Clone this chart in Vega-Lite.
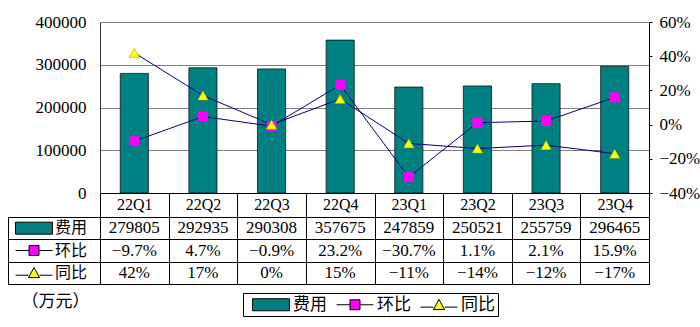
{
  "$schema": "https://vega.github.io/schema/vega-lite/v6.json",
  "background": "white",
  "padding": {"left": 7, "top": 13, "right": 0, "bottom": 0},
  "config": {
    "font": "Liberation Serif",
    "view": {"stroke": null},
    "axis": {"labelColor": "#000", "labelFont": "Liberation Serif", "labelOverlap": false},
    "axisRight": {"labelOverlap": false}
  },
  "datasets": {
    "main": [
      {"q": "22Q1", "fee": 279805, "hb": -0.097, "tb": 0.42},
      {"q": "22Q2", "fee": 292935, "hb": 0.047, "tb": 0.17},
      {"q": "22Q3", "fee": 290308, "hb": -0.009, "tb": 0.0},
      {"q": "22Q4", "fee": 357675, "hb": 0.232, "tb": 0.15},
      {"q": "23Q1", "fee": 247859, "hb": -0.307, "tb": -0.11},
      {"q": "23Q2", "fee": 250521, "hb": 0.011, "tb": -0.14},
      {"q": "23Q3", "fee": 255759, "hb": 0.021, "tb": -0.12},
      {"q": "23Q4", "fee": 296465, "hb": 0.159, "tb": -0.17}
    ],
    "rows": [{"s": "费用"}, {"s": "环比"}, {"s": "同比"}]
  },
  "columns": 2,
  "spacing": {"row": 24, "column": 0},
  "bounds": "flush",
  "resolve": {"legend": {"shape": "independent", "fill": "independent", "stroke": "independent"}},
  "concat": [
    {
      "width": 92, "height": 171,
      "data": {"values": [{}]},
      "mark": {"type": "text"},
      "encoding": {"text": {"value": ""}}
    },
    {
      "width": 549, "height": 171,
      "data": {"name": "main"},
      "encoding": {
        "x": {
          "field": "q", "type": "nominal", "sort": null,
          "scale": {"paddingInner": 0, "paddingOuter": 0},
          "axis": {"title": null, "labelAngle": 0, "tickBand": "extent", "tickSize": 24, "tickColor": "#000", "domainColor": "#000", "labelPadding": -13, "labelBaseline": "middle", "labelFontSize": 16}
        }
      },
      "layer": [
        {
          "mark": {"type": "bar", "width": {"band": 0.41}, "fill": "#008080", "stroke": "#000", "strokeWidth": 0.7},
          "encoding": {
            "y": {
              "field": "fee", "type": "quantitative",
              "scale": {"domain": [0, 400000]},
              "axis": {"title": null, "values": [0, 100000, 200000, 300000, 400000], "format": "d", "grid": true, "gridColor": "#808080", "gridOpacity": 1, "ticks": false, "domainColor": "#333", "labelFontSize": 17, "labelPadding": 14, "labelOverlap": false}
            }
          }
        },
        {
          "layer": [
            {
              "mark": {"type": "line", "stroke": "#000080", "strokeWidth": 1},
              "encoding": {"y": {"field": "hb", "type": "quantitative", "scale": {"domain": [-0.4, 0.6]}, "axis": {"title": null, "orient": "right", "values": [-0.4, -0.2, 0, 0.2, 0.4, 0.6], "format": ".0%", "grid": false, "tickSize": 3, "tickColor": "#000", "domainColor": "#000", "labelFontSize": 17, "labelPadding": 7, "labelOverlap": false}}}
            },
            {
              "mark": {"type": "line", "stroke": "#000080", "strokeWidth": 1},
              "encoding": {"y": {"field": "tb", "type": "quantitative", "scale": {"domain": [-0.4, 0.6]}, "axis": {"title": null, "orient": "right", "values": [-0.4, -0.2, 0, 0.2, 0.4, 0.6], "format": ".0%", "grid": false, "tickSize": 3, "tickColor": "#000", "domainColor": "#000", "labelFontSize": 17, "labelPadding": 7, "labelOverlap": false}}}
            },
            {
              "mark": {"type": "point", "shape": "square", "filled": true, "fill": "#FF00FF", "size": 100, "opacity": 1},
              "encoding": {"y": {"field": "hb", "type": "quantitative", "axis": {"title": null, "orient": "right", "values": [-0.4, -0.2, 0, 0.2, 0.4, 0.6], "format": ".0%", "grid": false, "tickSize": 3, "tickColor": "#000", "domainColor": "#000", "labelFontSize": 17, "labelPadding": 7, "labelOverlap": false}}}
            },
            {
              "mark": {"type": "point", "shape": "triangle-up", "filled": true, "fill": "#FFFF00", "stroke": "#999900", "strokeWidth": 0.5, "size": 110, "opacity": 1},
              "encoding": {"y": {"field": "tb", "type": "quantitative", "axis": {"title": null, "orient": "right", "values": [-0.4, -0.2, 0, 0.2, 0.4, 0.6], "format": ".0%", "grid": false, "tickSize": 3, "tickColor": "#000", "domainColor": "#000", "labelFontSize": 17, "labelPadding": 7, "labelOverlap": false}}}
            }
          ]
        }
      ],
      "resolve": {"scale": {"y": "independent"}}
    },
    {
      "width": 92, "height": 67,
      "view": {"stroke": "#000"},
      "data": {"name": "rows"},
      "encoding": {
        "y": {
          "field": "s", "type": "nominal", "sort": null,
          "scale": {"domain": ["费用", "环比", "同比"]},
          "axis": {"title": null, "labels": false, "ticks": false, "domain": false, "grid": true, "tickBand": "extent", "gridColor": "#000", "gridOpacity": 1}
        }
      },
      "layer": [
        {
          "mark": {"type": "point", "filled": true, "size": 144, "strokeWidth": 1, "opacity": 1, "xOffset": -36.5},
          "encoding": {
            "x": {
              "datum": 0, "type": "quantitative",
              "scale": {"domain": [-1, 1]},
              "axis": {"title": "（万元）", "labels": false, "ticks": false, "domain": false, "grid": false, "titleAnchor": "start", "titleAlign": "left", "titleX": 13, "titleBaseline": "middle", "titleY": 17, "titleFontSize": 17, "titleFont": "Noto Sans CJK SC", "titleFontWeight": "normal", "titleColor": "#000"}
            },
            "shape": {
              "field": "s", "type": "nominal",
              "scale": {"domain": ["费用", "环比", "同比"], "range": ["M-0.33,-1H5.83V1H-0.33Z", "M-0.33,0H1.92M3.58,0H5.83M1.92,-0.83H3.58V0.83H1.92Z", "M-0.33,0.4H1.83M3.67,0.4H5.83M1.83,0.8L2.75,-0.9L3.67,0.8Z"]},
              "legend": {"title": null, "orient": "none", "direction": "horizontal", "legendX": 235, "legendY": 76, "symbolSize": 144, "symbolStrokeWidth": 1, "labelFontSize": 17, "labelFont": "Noto Sans CJK SC", "labelColor": "#000", "labelOffset": 30, "columnPadding": 3, "padding": 3, "strokeColor": "#000", "fillColor": "#fff"}
            },
            "fill": {
              "field": "s", "type": "nominal",
              "scale": {"domain": ["费用", "环比", "同比"], "range": ["#008080", "#FF00FF", "#FFFF00"]},
              "legend": {"title": null, "orient": "none", "direction": "horizontal", "legendX": 235, "legendY": 76, "symbolSize": 144, "symbolStrokeWidth": 1, "labelFontSize": 17, "labelFont": "Noto Sans CJK SC", "labelColor": "#000", "labelOffset": 30, "columnPadding": 3, "padding": 3, "strokeColor": "#000", "fillColor": "#fff"}
            },
            "stroke": {
              "field": "s", "type": "nominal",
              "scale": {"domain": ["费用", "环比", "同比"], "range": ["#000000", "#000000", "#000000"]},
              "legend": {"title": null, "orient": "none", "direction": "horizontal", "legendX": 235, "legendY": 76, "symbolSize": 144, "symbolStrokeWidth": 1, "labelFontSize": 17, "labelFont": "Noto Sans CJK SC", "labelColor": "#000", "labelOffset": 30, "columnPadding": 3, "padding": 3, "strokeColor": "#000", "fillColor": "#fff"}
            }
          }
        },
        {
          "mark": {"type": "text", "align": "right", "baseline": "middle", "xOffset": 33, "fontSize": 16, "font": "Noto Sans CJK SC"},
          "encoding": {"text": {"field": "s", "type": "nominal"}}
        }
      ]
    },
    {
      "width": 549, "height": 67,
      "view": {"stroke": "#000"},
      "data": {"name": "main"},
      "encoding": {
        "x": {
          "field": "q", "type": "nominal", "sort": null,
          "scale": {"paddingInner": 0, "paddingOuter": 0},
          "axis": {"title": null, "labels": false, "ticks": false, "domain": false, "grid": true, "tickBand": "extent", "gridColor": "#000", "gridOpacity": 1}
        }
      },
      "layer": [
        {
          "mark": {"type": "text", "fontSize": 17, "baseline": "middle"},
          "encoding": {
            "y": {"datum": "费用", "type": "nominal", "scale": {"domain": ["费用", "环比", "同比"]}, "axis": {"title": null, "labels": false, "ticks": false, "domain": false, "grid": true, "tickBand": "extent", "gridColor": "#000", "gridOpacity": 1}},
            "text": {"field": "fee", "type": "quantitative", "format": "d"}
          }
        },
        {
          "mark": {"type": "text", "fontSize": 17, "baseline": "middle"},
          "encoding": {
            "y": {"datum": "环比", "type": "nominal"},
            "text": {"field": "hb", "type": "quantitative", "format": ".1%"}
          }
        },
        {
          "mark": {"type": "text", "fontSize": 17, "baseline": "middle"},
          "encoding": {
            "y": {"datum": "同比", "type": "nominal"},
            "text": {"field": "tb", "type": "quantitative", "format": ".0%"}
          }
        }
      ]
    }
  ]
}
